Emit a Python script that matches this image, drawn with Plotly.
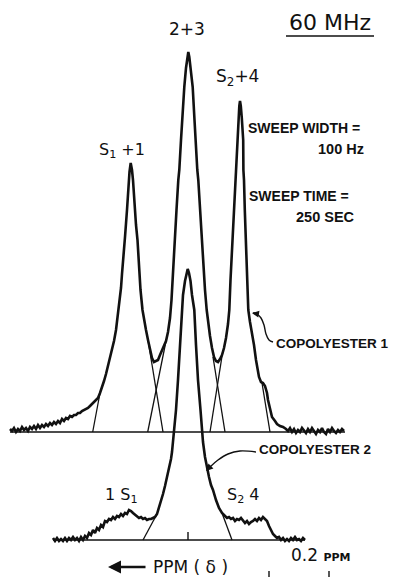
import plotly.graph_objects as go

# ---------------- data ----------------
# x: chart position along the sweep (ppm decreases to the right), y: signal intensity (arbitrary units)
cp1_x = [10,12,14,16,18,20,22,24,26,28,30,32,34,36,38,40,42,44,46,48,50,52,54,56,58,60,62,64,66,68,
         70,72,74,76,78,80,82,84,86,88,90,92,94,96,98,100,102,104,106,108,110,112,114,116,118,120,
         121,122,123,125,127,128.5,129.5,130.7,132,133,134.5,136,137.5,139,140.5,142.5,144,146,148,
         150,152,154,156,158,160,162,164,166,168,170,171.5,173,175,176.5,178.3,179.3,181,182.5,184.3,
         186,187.3,188.3,189.3,190.5,192.7,194.5,196,197.3,198.3,200,201.7,203.5,205,206.7,208,210,
         212,214,216,218,220,222,224,226,228,229.3,230.5,231.7,232.7,234,235,235.7,237,238.3,239.3,
         240,240.8,241.8,243.2,243.4,244,244.8,245.7,247,248.3,250,252,254,256,257,259,261,263,265,
         267,268,270,272,275,277,280,283,286,288,290,292,294,296,298,300,302,304,306,308,310,312,314,
         316,318,320,322,324,326,328,330,332,334,336,338,340,342,344]
cp1_y = [3,1,4,0,3,1,5,2,4,1,5,3,6,3,7,4,7,5,8,6,9,7,10,8,11,9,13,11,14,13,
         16,15,17,17,19,19,21,22,23,24,26,28,29,31,34,39,44,51,58,66,75,83,91,102,117,132,
         144,158,174,195,222,247,260,269,262,252,227,207,192,167,142,122,112,102,92,
         82,74,70,71,72,77,82,86,91,100,114,132,162,195,222,252,262,292,320,345,
         364,375,380,375,364,345,312,282,262,252,222,195,167,142,122,110,96,
         84,75,71,70,73,77,84,94,108,122,152,177,195,227,252,262,292,314,326,
         331,326,314,292,262,252,222,195,152,122,110,99,87,72,65,55,50,49,46,
         39,32,22,15,11,8,6,5,3,1,4,0,3,-1,2,0,4,1,-1,3,0,4,1,
         -2,2,0,4,0,-2,3,0,4,1,-1,2,0,3,1]

cp2_x = [53,55,57,59,61,63,65,67,69,71,73,75,77,79,81,83,85,87,89,91,93,95,97,99,101,103,105,107,
         109,111,113,115,117,119,121,123,125,127,129,131,133,135,137,139,141,143,145,147,149,151,153,
         155,157,159,161,163,165,167,169,171,172,173,174,176,178,180,181.7,183,185,186.5,187.7,189,
         190.5,192,194.3,196,198,200.5,202,203,205,207,209,211,213,216,219,222,225,227,
         229,231,233,235,237,239,241,243,245,247,249,251,253,255,257,259,261,263,265,267,269,271,273,
         275,277,279,281,283,285,287,289,291,293,295,297,299,301,303,305]
cp2_y = [2,-1,2,-1,1,-1,2,-1,2,0,3,0,2,-1,3,0,4,2,7,5,10,7,12,10,15,13,19,18,
         21,20,23,21,24,23,26,24,27,26,30,29,27,25,24,22,23,21,22,20,21,21,22,
         23,26,32,39,46,54,62,71,81,88,97,109,130,160,195,230,245,259,267,271,267,
         259,245,230,195,160,130,109,98,83,72,63,55,50,40,32,27,24,22,
         23,21,22,19,21,20,22,19,17,19,16,18,19,21,19,22,20,23,21,19,14,9,6,
         4,2,3,0,2,-1,1,-1,2,0,3,0,1,-1,2,0]

# deconvolved component flanks (foot on baseline -> where they leave the trace)
comp1_x = [92.7, 100, None, 148, 163, None, 166, 147.7, None, 213, 225, None, 223, 210, None, 262, 270]
comp1_y = [0, 39, None, 92, 0, None, 91, 0, None, 75, 0, None, 82, 0, None, 49, 0]
comp2_x = [157, 143, None, 222, 232]
comp2_y = [26, 0, None, 27, 0]

baseline1_x = [10, 345]
baseline2_x = [53, 305]
center_mark_x = 188

assert len(cp1_x) == len(cp1_y), (len(cp1_x), len(cp1_y))
assert len(cp2_x) == len(cp2_y), (len(cp2_x), len(cp2_y))

# ---------------- layout helpers ----------------
W, H = 395, 583
BASE1 = 432          # chart row of copolyester 1 baseline
OFF2 = -108          # vertical offset of copolyester 2 trace


def P(px, py):
    return px, BASE1 - py


def shift(vals, off):
    return [None if v is None else v + off for v in vals]


fig = go.Figure()
BLACK = "#111111"

# baselines
fig.add_trace(go.Scatter(x=baseline1_x, y=[0, 0], mode="lines", line=dict(color=BLACK, width=1.6)))
fig.add_trace(go.Scatter(x=baseline2_x, y=[OFF2, OFF2], mode="lines", line=dict(color=BLACK, width=1.6)))
fig.add_trace(go.Scatter(x=[center_mark_x, center_mark_x], y=[OFF2, OFF2 + 8], mode="lines",
                         line=dict(color=BLACK, width=1.4)))

# components
fig.add_trace(go.Scatter(x=comp1_x, y=comp1_y, mode="lines", line=dict(color=BLACK, width=1.3)))
fig.add_trace(go.Scatter(x=comp2_x, y=shift(comp2_y, OFF2), mode="lines", line=dict(color=BLACK, width=1.3)))

# spectra
fig.add_trace(go.Scatter(x=cp1_x, y=cp1_y, mode="lines", line=dict(color=BLACK, width=2.6)))
fig.add_trace(go.Scatter(x=cp2_x, y=shift(cp2_y, OFF2), mode="lines", line=dict(color=BLACK, width=2.6)))

# leader curves
l1 = [(273, 342), (269, 340), (266, 334), (264, 325), (261, 318), (257, 314), (253, 313)]
l2 = [(256, 452), (240, 451), (228, 454), (218, 460), (211, 466), (208, 469)]
for pts in (l1, l2):
    xs, ys = zip(*[P(a, b) for a, b in pts])
    fig.add_trace(go.Scatter(x=list(xs), y=list(ys), mode="lines",
                             line=dict(color=BLACK, width=1.4, shape="spline")))

ann = []


def text(px, py, s, size, family="DejaVu Sans", xanchor="center", bold=False):
    x, y = P(px, py)
    ann.append(dict(x=x, y=y, xref="x", yref="y", text=s, showarrow=False,
                    xanchor=xanchor, yanchor="middle",
                    font=dict(size=size, family=family, color=BLACK,
                              weight="bold" if bold else "normal")))


def arrow(hx, hy, tx, ty, width=1.4, size=1.0):
    x, y = P(hx, hy)
    ax, ay = P(tx, ty)
    ann.append(dict(x=x, y=y, ax=ax, ay=ay, xref="x", yref="y", axref="x", ayref="y",
                    text="", showarrow=True, arrowhead=2, arrowsize=size, arrowwidth=width,
                    arrowcolor=BLACK, standoff=0, startstandoff=0))


text(330, 22, "60 MHz", 22)
text(187, 29, "2+3", 17)
text(237, 77, "S<sub>2</sub>+4", 17)
text(122, 150, "S<sub>1</sub> +1", 16)
text(246, 128, "SWEEP WIDTH =", 14, "Liberation Sans", "left", True)
text(366, 149, "100 Hz", 14.5, "Liberation Sans", "right", True)
text(247, 196, "SWEEP TIME =", 14, "Liberation Sans", "left", True)
text(357, 217, "250 SEC", 14.5, "Liberation Sans", "right", True)
text(274, 343, "COPOLYESTER 1", 13.5, "Liberation Sans", "left", True)
text(257, 449, "COPOLYESTER 2", 13.5, "Liberation Sans", "left", True)
text(121, 495, "1 S<sub>1</sub>", 16)
text(243, 495, "S<sub>2</sub> 4", 16)
text(151, 567, "PPM ( δ )", 17, xanchor="left")
text(289, 555, "0.2 <span style='font-size:11px'><b>PPM</b></span>", 17, xanchor="left")

arrow(252, 313, 258, 314, 1.4, 1.0)
arrow(206, 471, 211, 466, 1.4, 1.0)
arrow(108, 567, 147, 567, 2.6, 1.0)

shapes = []
x0, y0 = P(286, 36)
x1, _ = P(374, 36)
shapes.append(dict(type="line", xref="x", yref="y", x0=x0, x1=x1, y0=y0, y1=y0,
                   line=dict(color=BLACK, width=1.6)))
for tx in (269, 329):
    a, b = P(tx, 571)
    _, c = P(tx, 577)
    shapes.append(dict(type="line", xref="x", yref="y", x0=a, x1=a, y0=b, y1=c,
                       line=dict(color=BLACK, width=1.4)))

fig.update_layout(
    width=W, height=H, margin=dict(l=0, r=0, t=0, b=0),
    paper_bgcolor="white", plot_bgcolor="white", showlegend=False, hovermode=False,
    xaxis=dict(range=[0, W], visible=False, fixedrange=True),
    yaxis=dict(range=[BASE1 - H, BASE1], visible=False, fixedrange=True),
    annotations=ann, shapes=shapes,
)

fig.write_html("out.html", config={"displayModeBar": False},
               post_script="document.body.style.margin='0';document.body.style.overflow='hidden';")
